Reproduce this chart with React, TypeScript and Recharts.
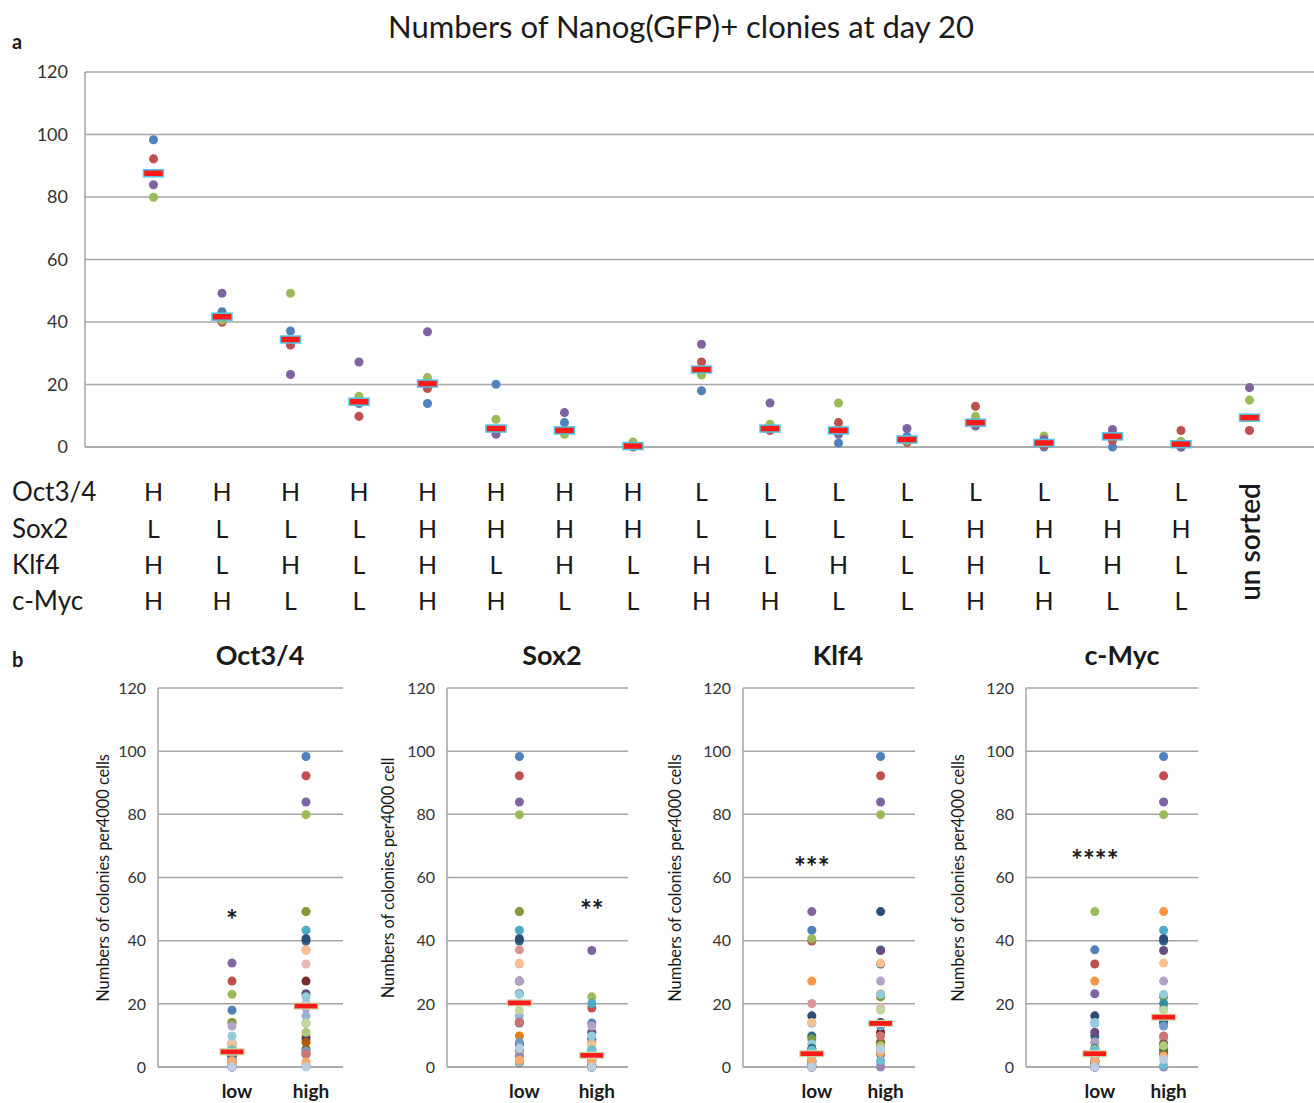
import React from 'react'
import { ScatterChart, Scatter, XAxis, YAxis, ZAxis, CartesianGrid, Cell, ReferenceDot } from 'recharts'

// panel a: one value per condition and replicate (condition 17 = unsorted)
const conditionIds = [1, 2, 3, 4, 5, 6, 7, 8, 9, 10, 11, 12, 13, 14, 15, 16, 17]
const repBlue = [98.3, 43.3, 37.1, 13.9, 13.9, 20.1, 7.8, 0.3, 18.0, 5.5, 1.3, 3.4, 7.0, 0.0, 0.0, 0.0, null]
const repRed = [92.2, 39.9, 32.6, 9.8, 18.7, 5.6, 5.0, 0.5, 27.2, 5.3, 7.8, 1.5, 13.0, 0.5, 2.1, 5.3, 5.3]
const repGreen = [79.9, 40.6, 49.2, 16.2, 22.2, 8.9, 4.1, 1.6, 23.0, 7.3, 14.1, 2.1, 9.8, 3.5, 4.5, 1.8, 15.0]
const repPurple = [83.9, 49.2, 23.2, 27.2, 36.9, 4.1, 11.0, 0.0, 32.9, 14.1, 4.1, 5.9, 6.7, 2.4, 5.6, 0.0, 19.0]
const medians = [87.6, 41.7, 34.4, 14.5, 20.3, 5.9, 5.3, 0.3, 24.8, 5.9, 5.3, 2.4, 7.8, 1.3, 3.4, 0.9, 9.4]

// expression table under panel a
const geneNames = ['Oct3/4', 'Sox2', 'Klf4', 'c-Myc']
const octLevels = ['H', 'H', 'H', 'H', 'H', 'H', 'H', 'H', 'L', 'L', 'L', 'L', 'L', 'L', 'L', 'L']
const soxLevels = ['L', 'L', 'L', 'L', 'H', 'H', 'H', 'H', 'L', 'L', 'L', 'L', 'H', 'H', 'H', 'H']
const klfLevels = ['H', 'L', 'H', 'L', 'H', 'L', 'H', 'L', 'H', 'L', 'H', 'L', 'H', 'L', 'H', 'L']
const mycLevels = ['H', 'H', 'L', 'L', 'H', 'H', 'L', 'L', 'H', 'H', 'L', 'L', 'H', 'H', 'L', 'L']
const unsortedLabel = 'un sorted'

// panel b
const groupLabels = ['low', 'high']
const lowMedians = [4.8, 20.3, 4.2, 4.2]
const highMedians = [19.3, 3.7, 13.8, 15.8]
const stars = ['*', '**', '***', '****']
const starGroup = [1, 2, 1, 1]
const starHeight = [47.8, 51, 64.6, 66.8]
const yTitles = [
  'Numbers of colonies per4000 cells',
  'Numbers of colonies per4000 cell',
  'Numbers of colonies per4000 cells',
  'Numbers of colonies per4000 cells',
]
const yTicks = [0, 20, 40, 60, 80, 100, 120]

const FONT = 'Lato, "Open Sans", sans-serif'
const GRID = '#a6a6a6'
const INK = '#1a1a1a'
const repColors = ['#4f81bd', '#c0504d', '#9bbb59', '#8064a2']
const reps = [repBlue, repRed, repGreen, repPurple]
const levelRows = [octLevels, soxLevels, klfLevels, mycLevels]

const dotPalette = [
  '#4f81bd', '#c0504d', '#9bbb59', '#8064a2', '#4bacc6', '#2c6e85', '#2c4d75', '#f79646',
  '#d99694', '#e6b9b8', '#7d9a3f', '#644e80', '#358ca3', '#e47c1b', '#95b3d7', '#772c2a',
  '#c3d69b', '#b3a2c7', '#93cddd', '#fac090', '#a7c0df', '#5f7530', '#4d3b62', '#276a7c',
  '#b65708', '#729aca', '#cd7371', '#afc97a', '#9983b5', '#6fbdd1', '#f9ab6b', '#b9cde5',
]

const rowOffsets = [45, 82, 118, 154]

const TableTick = (props: any) => {
  const { x, y, payload } = props
  const i = payload.value - 1
  if (i === 16) {
    return (
      <text transform={`translate(${x + 10},${y + 95}) rotate(-90)`} textAnchor="middle"
        fontSize={28} fontWeight={600} fontFamily={FONT} fill={INK}>{unsortedLabel}</text>
    )
  }
  return (
    <g>
      {levelRows.map((row, r) => (
        <text key={r} x={x} y={y + rowOffsets[r] + 9} textAnchor="middle" fontSize={25}
          fontFamily={FONT} fill={INK}>{row[i]}</text>
      ))}
    </g>
  )
}

const MedianBarA = (p: any) => (
  <rect x={p.cx - 10} y={p.cy - 3.5} width={20} height={7} fill="#ff1a1a" stroke="#4fc6e4" strokeWidth={1.5} />
)
const MedianBarB = (p: any) => (
  <rect x={p.cx - 12} y={p.cy - 3} width={24} height={6} fill="#ff1a1a" stroke="#c5e3b0" strokeWidth={1.2} />
)

function PanelA() {
  const series = reps.map((vals) =>
    conditionIds.map((c, i) => ({ x: c, y: vals[i] })).filter((d) => d.y !== null)
  )
  const medianData = conditionIds.map((c, i) => ({ x: c, y: medians[i] }))
  return (
    <div style={{ position: 'absolute', left: 0, top: 0 }}>
      <ScatterChart width={1318} height={620} margin={{ top: 72, right: 0, bottom: 0, left: 0 }}>
        <CartesianGrid vertical={false} stroke={GRID} strokeWidth={1.5} />
        <XAxis type="number" dataKey="x" domain={[0, 18]} ticks={conditionIds} interval={0}
          height={173} tick={<TableTick />} tickLine={false} tickSize={0} tickMargin={0}
          axisLine={{ stroke: GRID, strokeWidth: 1.5 }} />
        <YAxis type="number" dataKey="y" domain={[0, 120]} ticks={yTicks} width={85}
          tickLine={false} tickSize={0} tickMargin={17} axisLine={{ stroke: GRID, strokeWidth: 1.5 }}
          tick={{ fontSize: 18, fill: '#333', fontFamily: FONT }} />
        <ZAxis range={[105, 105]} />
        {series.map((d, k) => (
          <Scatter key={k} data={d} fill={repColors[k]} isAnimationActive={false} />
        ))}
        <Scatter data={medianData} shape={MedianBarA} isAnimationActive={false} />
      </ScatterChart>
    </div>
  )
}

const plotLeft = [158, 447, 743, 1026]
const plotWidth = [185, 181, 172, 172]

function PanelB({ g }: { g: number }) {
  const row = levelRows[g]
  const points: { x: number; y: number; color: string }[] = []
  ;['L', 'H'].forEach((lvl, side) => {
    let k = 0
    for (let c = 0; c < 16; c++) {
      if (row[c] !== lvl) continue
      reps.forEach((vals, r) => {
        points.push({ x: side + 1, y: vals[c] as number, color: dotPalette[(k * 4 + r) % 32] })
      })
      k++
    }
  })
  const medianData = [
    { x: 1, y: lowMedians[g] },
    { x: 2, y: highMedians[g] },
  ]
  const yAxisW = 50
  return (
    <div style={{ position: 'absolute', left: plotLeft[g] - yAxisW, top: 640 }}>
      <ScatterChart width={yAxisW + plotWidth[g]} height={463} margin={{ top: 48, right: 0, bottom: 0, left: 0 }}>
        <CartesianGrid vertical={false} stroke={GRID} strokeWidth={1.5} />
        <XAxis type="number" dataKey="x" domain={[0, 2.5]} ticks={[1, 2]} interval={0} height={36}
          tickFormatter={(v: number) => groupLabels[v - 1]} tickLine={false} tickSize={0} tickMargin={18}
          axisLine={{ stroke: GRID, strokeWidth: 1.5 }}
          tick={{ fontSize: 19, fontWeight: 700, fill: INK, fontFamily: FONT, dx: 5 }} />
        <YAxis type="number" dataKey="y" domain={[0, 120]} ticks={yTicks} width={yAxisW}
          tickLine={false} tickSize={0} tickMargin={12} axisLine={{ stroke: GRID, strokeWidth: 1.5 }}
          tick={{ fontSize: 16, fill: '#333', fontFamily: FONT }} />
        <ZAxis range={[100, 100]} />
        <Scatter data={points} isAnimationActive={false}>
          {points.map((p, i) => <Cell key={i} fill={p.color} />)}
        </Scatter>
        <Scatter data={medianData} shape={MedianBarB} isAnimationActive={false} />
        <ReferenceDot x={starGroup[g]} y={starHeight[g]} r={0} ifOverflow="visible"
          shape={(p: any) => (
            <text x={p.cx} y={p.cy + 14} textAnchor="middle" fontSize={28} fontWeight={700}
              fontFamily={FONT} fill={INK}>{stars[g]}</text>
          )} />
      </ScatterChart>
    </div>
  )
}

const panelTitleX = [260, 552, 838, 1122]
const yTitleX = [103, 388, 675, 958]

export default function App() {
  return (
    <div style={{ position: 'absolute', left: 0, top: 0, width: 1314, height: 1103, overflow: 'hidden', background: '#fff' }}>
      <PanelA />
      {[0, 1, 2, 3].map((g) => <PanelB key={g} g={g} />)}
      <svg width={1314} height={1103} style={{ position: 'absolute', left: 0, top: 0, pointerEvents: 'none' }}
        fontFamily={FONT} fill={INK}>
        <text x={12} y={49} fontSize={20} fontWeight={700}>a</text>
        <text x={12} y={667} fontSize={20} fontWeight={700}>b</text>
        <text x={681} y={38} fontSize={31} textAnchor="middle">Numbers of Nanog(GFP)+ clonies at day 20</text>
        {geneNames.map((n, r) => (
          <text key={n} x={12} y={447 + rowOffsets[r] + 9} fontSize={26}>{n}</text>
        ))}
        {geneNames.map((n, g) => (
          <text key={'t' + n} x={panelTitleX[g]} y={665} fontSize={27} fontWeight={700} textAnchor="middle">{n}</text>
        ))}
        {yTitles.map((t, g) => (
          <text key={'y' + g} transform={`translate(${yTitleX[g] + 6},878) rotate(-90)`} fontSize={16.5}
            textAnchor="middle" letterSpacing={-0.1}>{t}</text>
        ))}
      </svg>
    </div>
  )
}
